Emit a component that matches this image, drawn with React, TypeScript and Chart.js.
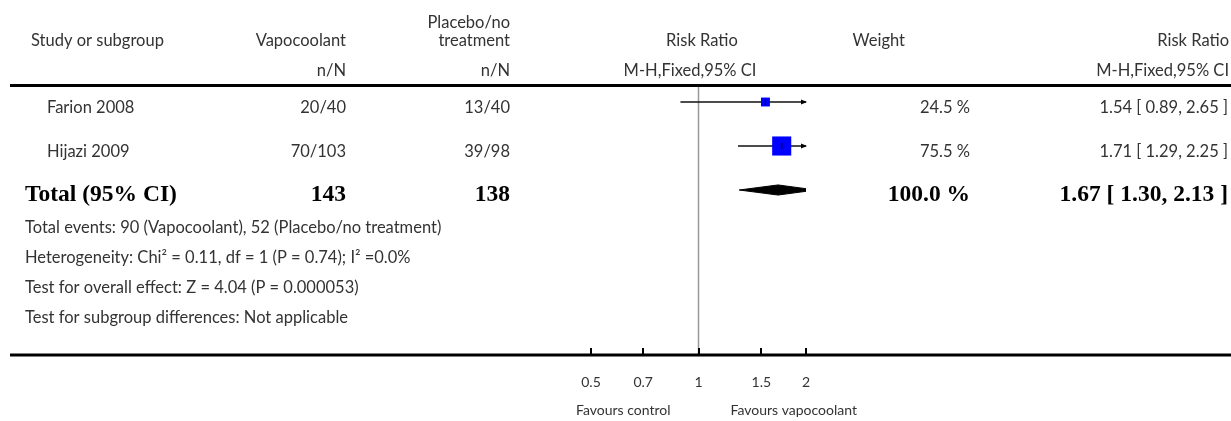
import React, { useEffect, useRef } from "react";
import { Chart, registerables } from "chart.js";

Chart.register(...registerables);

// ---------- data ----------
const studies = ["Farion 2008", "Hijazi 2009"];
const vapoEvents = ["20/40", "70/103"];
const placeboEvents = ["13/40", "39/98"];
const riskRatio = [1.54, 1.71];
const ciLow = [0.89, 1.29];
const ciHigh = [2.65, 2.25];
const weights = [24.5, 75.5];

const totalLabel = "Total (95% CI)";
const totalVapo = "143";
const totalPlacebo = "138";
const totalRR = 1.67;
const totalLow = 1.3;
const totalHigh = 2.13;
const totalWeight = 100.0;

const footnotes = [
  "Total events: 90 (Vapocoolant), 52 (Placebo/no treatment)",
  "Heterogeneity: Chi² = 0.11, df = 1 (P = 0.74); I² =0.0%",
  "Test for overall effect: Z = 4.04 (P = 0.000053)",
  "Test for subgroup differences: Not applicable",
];

const axisTicks = [0.5, 0.7, 1, 1.5, 2];
const axisTickLabels = ["0.5", "0.7", "1", "1.5", "2"];
const axisMin = 0.5;
const axisMax = 2;
const nullEffect = 1;
const favoursLeft = "Favours control";
const favoursRight = "Favours vapocoolant";

// ---------- style ----------
const W = 1231;
const H = 421;
const TEXT = "#333";
const FONT = '16.5px Lato, "Open Sans", sans-serif';
const SMALL = '14px Lato, "Open Sans", sans-serif';
const BOLD = 'bold 23.5px "Liberation Serif", "DejaVu Serif", serif';
const DIAMOND_HALF = 0.115; // in row units

const fmt2 = (v: number) => v.toFixed(2);
const ciText = (r: number, l: number, h: number) =>
  `${fmt2(r)} [ ${fmt2(l)}, ${fmt2(h)} ]`;

const totalRow = studies.length;

const forestPlugin = {
  id: "forestText",
  beforeDatasetsDraw(chart: any) {
    const { ctx, scales, chartArea } = chart;
    const x1 = scales.x.getPixelForValue(nullEffect);
    ctx.save();
    ctx.strokeStyle = "#999";
    ctx.lineWidth = 1.5;
    ctx.beginPath();
    ctx.moveTo(x1, chartArea.top + 1);
    ctx.lineTo(x1, chartArea.bottom - 1);
    ctx.stroke();
    ctx.restore();
  },
  afterDraw(chart: any) {
    const { ctx, scales, chartArea } = chart;
    const xs = scales.x;
    const ys = scales.y;
    ctx.save();

    // rules
    ctx.strokeStyle = "#000";
    ctx.lineWidth = 3;
    ctx.beginPath();
    ctx.moveTo(10, chartArea.top - 0.5);
    ctx.lineTo(W, chartArea.top - 0.5);
    ctx.moveTo(10, chartArea.bottom);
    ctx.lineTo(W, chartArea.bottom);
    ctx.stroke();

    // axis ticks
    ctx.lineWidth = 2;
    ctx.beginPath();
    axisTicks.forEach((t) => {
      const px = Math.round(xs.getPixelForValue(t));
      ctx.moveTo(px, chartArea.bottom - 7);
      ctx.lineTo(px, chartArea.bottom);
    });
    ctx.stroke();

    // arrows where CI exceeds axis
    ctx.fillStyle = "#000";
    studies.forEach((_, i) => {
      const y = ys.getPixelForValue(i);
      if (ciHigh[i] > axisMax) {
        const xe = xs.getPixelForValue(axisMax);
        ctx.beginPath();
        ctx.moveTo(xe + 1, y);
        ctx.lineTo(xe - 5, y - 2.5);
        ctx.lineTo(xe - 5, y + 2.5);
        ctx.closePath();
        ctx.fill();
      }
      if (ciLow[i] < axisMin) {
        const xs0 = xs.getPixelForValue(axisMin);
        ctx.beginPath();
        ctx.moveTo(xs0 - 1, y);
        ctx.lineTo(xs0 + 5, y - 2.5);
        ctx.lineTo(xs0 + 5, y + 2.5);
        ctx.closePath();
        ctx.fill();
      }
    });

    const text = (s: string, x: number, y: number, align: CanvasTextAlign, font = FONT, color = TEXT) => {
      ctx.font = font;
      ctx.fillStyle = color;
      ctx.textAlign = align;
      ctx.textBaseline = "alphabetic";
      ctx.fillText(s, x, y);
    };

    // headers
    text("Study or subgroup", 31, 46, "left");
    text("Vapocoolant", 346, 46, "right");
    text("Placebo/no", 510, 28, "right");
    text("treatment", 510, 46, "right");
    text("n/N", 346, 76, "right");
    text("n/N", 510, 76, "right");
    text("Risk Ratio", 702, 46, "center");
    text("M-H,Fixed,95% CI", 690, 76, "center");
    text("Weight", 905, 46, "right");
    text("Risk Ratio", 1229, 46, "right");
    text("M-H,Fixed,95% CI", 1229, 76, "right");

    // study rows
    studies.forEach((s, i) => {
      const yb = ys.getPixelForValue(i) + 11;
      text(s, 47, yb, "left");
      text(vapoEvents[i], 346, yb, "right");
      text(placeboEvents[i], 510, yb, "right");
      text(`${weights[i].toFixed(1)} %`, 970, yb, "right");
      text(ciText(riskRatio[i], ciLow[i], ciHigh[i]), 1228, yb, "right");
    });

    // total row
    const ty = ys.getPixelForValue(totalRow);
    const tb = ty + 11;
    text(totalLabel, 25, tb, "left", BOLD, "#000");
    text(totalVapo, 346, tb, "right", BOLD, "#000");
    text(totalPlacebo, 510, tb, "right", BOLD, "#000");
    text(`${totalWeight.toFixed(1)} %`, 970, tb, "right", BOLD, "#000");
    text(ciText(totalRR, totalLow, totalHigh), 1228, tb, "right", BOLD, "#000");

    footnotes.forEach((f, k) => {
      text(f, 25, ty + 43 + k * 30, "left");
    });

    // tick labels
    axisTicks.forEach((t, k) => {
      text(axisTickLabels[k], xs.getPixelForValue(t), chartArea.bottom + 32, "center", SMALL);
    });
    const xc = xs.getPixelForValue(nullEffect);
    text(favoursLeft, xc - 28, chartArea.bottom + 60, "right", SMALL);
    text(favoursRight, xc + 32, chartArea.bottom + 60, "left", SMALL);

    ctx.restore();
  },
};

export default function App() {
  const ref = useRef<HTMLCanvasElement | null>(null);

  useEffect(() => {
    if (!ref.current) return;
    const ciDatasets = studies.map((s, i) => ({
      label: `${s} CI`,
      data: [
        { x: ciLow[i], y: i },
        { x: ciHigh[i], y: i },
      ],
      borderColor: "#111",
      borderWidth: 1.5,
      pointRadius: 0,
      fill: false,
      clip: 0,
      order: 3,
    }));

    const chart = new Chart(ref.current, {
      type: "line",
      data: {
        datasets: [
          {
            label: "diamond upper",
            data: [
              { x: totalLow, y: totalRow },
              { x: totalRR, y: totalRow - DIAMOND_HALF },
              { x: totalHigh, y: totalRow },
            ],
            borderColor: "#000",
            backgroundColor: "#000",
            borderWidth: 1,
            pointRadius: 0,
            fill: "+1",
            clip: 0,
          },
          {
            label: "diamond lower",
            data: [
              { x: totalLow, y: totalRow },
              { x: totalRR, y: totalRow + DIAMOND_HALF },
              { x: totalHigh, y: totalRow },
            ],
            borderColor: "#000",
            backgroundColor: "#000",
            borderWidth: 1,
            pointRadius: 0,
            fill: false,
            clip: 0,
          },
          ...ciDatasets,
          {
            label: "weights",
            data: studies.map((_, i) => ({ x: riskRatio[i], y: i })),
            showLine: false,
            pointStyle: "rect",
            pointRadius: weights.map((w) => (4 + 0.2 * w) / Math.SQRT2),
            backgroundColor: "#0000ff",
            borderColor: "#0000ff",
            borderWidth: 0,
            clip: 0,
            order: 2,
          },
          {
            label: "estimates",
            data: studies.map((_, i) => ({ x: riskRatio[i], y: i })),
            showLine: false,
            pointStyle: "line",
            rotation: 90,
            pointRadius: 3,
            borderColor: "#000",
            borderWidth: 1.2,
            clip: 0,
            order: 1,
          },
        ] as any,
      },
      options: {
        responsive: false,
        animation: false,
        devicePixelRatio: 1,
        layout: { padding: { left: 591, right: W - 806, top: 86, bottom: H - 355 } },
        plugins: { legend: { display: false }, tooltip: { enabled: false } },
        events: [],
        scales: {
          x: {
            type: "logarithmic",
            min: axisMin,
            max: axisMax,
            bounds: "data",
            display: false,
          },
          y: {
            type: "linear",
            reverse: true,
            min: -16 / 44,
            max: -16 / 44 + 269 / 44,
            bounds: "data",
            display: false,
          },
        },
      } as any,
      plugins: [forestPlugin],
    });
    return () => chart.destroy();
  }, []);

  return (
    <div style={{ position: "fixed", left: 0, top: 0, width: W, height: H, background: "#fff" }}>
      <canvas ref={ref} width={W} height={H} style={{ width: W, height: H, display: "block" }} />
    </div>
  );
}
